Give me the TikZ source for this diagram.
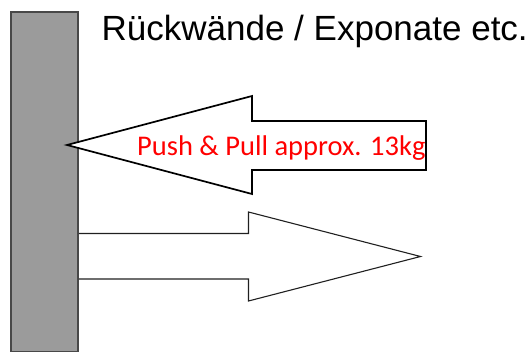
\documentclass[tikz,border=0pt]{standalone}
\usepackage{fontspec}
\setmainfont{Liberation Sans}
\newfontfamily\calib{Carlito}
\definecolor{wallfill}{HTML}{9B9B9B}
\definecolor{wallline}{HTML}{484848}
\definecolor{arrowline}{HTML}{202020}
\begin{document}
\begin{tikzpicture}[x=1pt,y=-1pt,
  wallbox/.style={draw=wallline,fill=wallfill,line width=1.8pt,inner sep=0pt,
    minimum width=67pt,minimum height=340pt,anchor=north west},
  pusharrow/.style={draw=black,fill=white,line width=1.7pt,line join=miter},
  pullarrow/.style={draw=arrowline,line width=1.1pt,line join=miter},
  titletext/.style={inner sep=0pt,anchor=base west,font=\fontsize{35}{41}\selectfont},
  forcetext/.style={inner sep=0pt,anchor=base west,text=red,font=\calib\fontsize{28.5}{34}\selectfont}]
\useasboundingbox (0,0) rectangle (532,352);
\node[wallbox] (wall) at (10,11) {};
\node[titletext] (title) at (101.5,41) {Rückwände / Exponate etc.};
% push arrow (pointing left)
\draw[pusharrow] (67,145) -- (252,96) -- (252,121) -- (426,121) -- (426,170)
  -- (252,170) -- (252,194) -- cycle;
\node[forcetext] (force) at (137,156) {Push \& Pull approx. 13kg};
% pull arrow (pointing right)
\coordinate (pullA) at (wall.east |- 0,233.5);
\coordinate (pullB) at (wall.east |- 0,279);
\draw[pullarrow] (pullA) -- (248.5,233.5) -- (248.5,212) -- (420.5,256.5)
  -- (248.5,301) -- (248.5,279) -- (pullB);
\end{tikzpicture}
\end{document}
